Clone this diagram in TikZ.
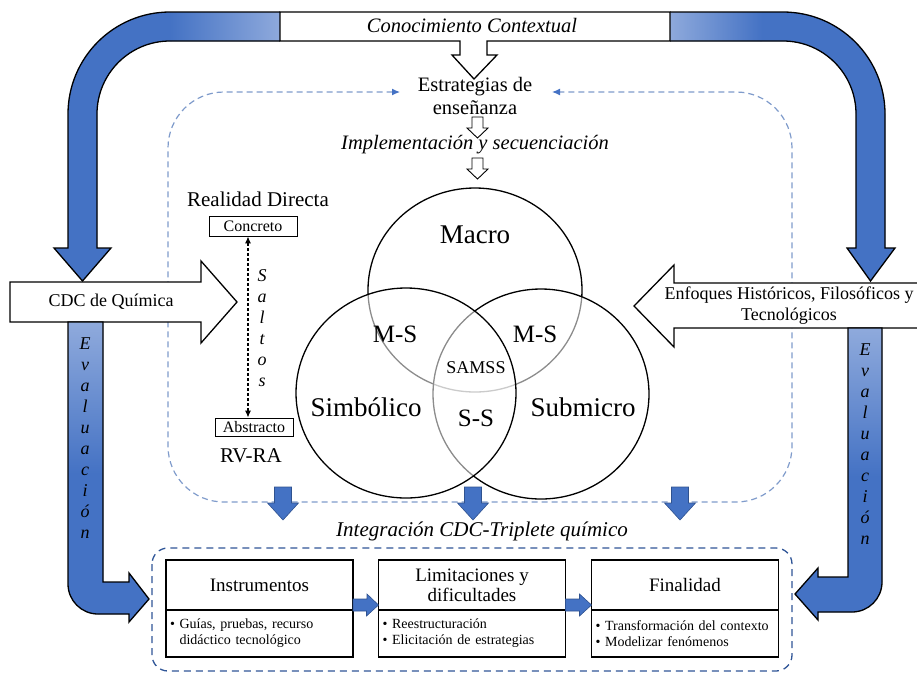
\documentclass[tikz,border=0pt]{standalone}
\usepackage{fontspec}
\setmainfont{Liberation Serif}
\usetikzlibrary{arrows.meta}
\usetikzlibrary{positioning}
\definecolor{evalblue}{HTML}{4472C4}
\definecolor{evallight}{HTML}{8FAADC}
\definecolor{evaldark}{HTML}{2F528F}
\definecolor{loopblue}{HTML}{7F9BCB}
\definecolor{integblue}{HTML}{2F5597}
\tikzset{
  txt/.style={align=center, font=\fontsize{20.5}{22.5}\selectfont},
  ital/.style={align=center, font=\fontsize{20.5}{22.5}\selectfont\itshape},
  vert/.style={align=center, font=\fontsize{18}{21}\selectfont\itshape},
  hollow/.style={draw=black, line width=1.3pt, fill=white},
  bigarrow/.style={draw=black, line width=1.3pt, fill=evalblue},
  bluearrow/.style={draw=evaldark, line width=0.6pt, fill=evalblue},
  venn/.style={draw=black, line width=1.3pt, fill=white, fill opacity=0.55},
  level/.style={font=\fontsize{27}{30}\selectfont},
  inters/.style={font=\fontsize{25}{28}\selectfont},
  smallbox/.style={draw, line width=0.9pt, inner sep=0pt, font=\fontsize{16}{18}\selectfont},
  boxhead/.style={draw, line width=1.3pt, outer sep=0pt, inner sep=0pt, minimum width=187pt,
    minimum height=50pt, align=center, font=\fontsize{19}{20}\selectfont},
  boxbody/.style={draw, line width=1.3pt, outer sep=0pt, inner sep=0pt, minimum width=187pt,
    minimum height=47pt, text width=179pt, align=left, font=\fontsize{14}{16}\selectfont},
  loopdash/.style={draw=loopblue, line width=1.2pt, dash pattern=on 6pt off 4pt, rounded corners=56pt},
  integdash/.style={draw=integblue, line width=1.3pt, dash pattern=on 7pt off 5pt, rounded corners=16pt}
}
\begin{document}
\begin{tikzpicture}[line join=miter, x=1pt, y=1pt, >={Latex[length=8pt,width=7pt]}]
\useasboundingbox (0,0) rectangle (917,-673);
% lazo de estrategias
\draw[loopdash, {Latex[length=8pt,width=7pt,evalblue]}-{Latex[length=8pt,width=7pt,evalblue]}]
  (400,-92) -- (168,-92) -- (168,-502) -- (792,-502) -- (792,-92) -- (552,-92);
% flechas grandes superiores
\draw[bigarrow, path picture={
    \fill[evalblue] (40,0) rectangle (172,-300);
    \shade[left color=evalblue, right color=evallight] (170,0) rectangle (281,-300);}]
  (280,-12) -- (170,-12) arc[start angle=90, end angle=180, radius=102] -- (68,-248) -- (54,-248)
  -- (82.5,-281) -- (111,-248) -- (97,-248) -- (97,-114) arc[start angle=180, end angle=90, radius=73] -- (280,-41);
\draw[bigarrow, path picture={
    \fill[evalblue] (760,0) rectangle (920,-300);
    \shade[left color=evallight, right color=evalblue] (669,0) rectangle (762,-300);}]
  (670,-12) -- (783,-12) arc[start angle=90, end angle=0, radius=102] -- (885,-248) -- (895,-248)
  -- (870.5,-281) -- (847,-248) -- (856,-248) -- (856,-114) arc[start angle=0, end angle=90, radius=73] -- (670,-41);
% conocimiento contextual
\draw[hollow] (280,-12) -- (670,-12) -- (670,-41) -- (487,-41) -- (487,-55) -- (497,-55) -- (474,-79)
  -- (452,-55) -- (460,-55) -- (460,-41) -- (280,-41) -- cycle;
\node[ital] (conoc) at (472,-26) {Conocimiento Contextual};
\node[txt] (estrat) at (475,-96) {Estrategias de\\enseñanza};
\node[ital] (implem) at (475,-145) {Implementación y secuenciación};
\foreach \y in {117,158}
  \draw[hollow, line width=0.9pt] (472,-\y) -- (483,-\y) -- (483,{-\y-11}) -- (488,{-\y-11})
    -- (477.5,{-\y-21}) -- (467,{-\y-11}) -- (472,{-\y-11}) -- cycle;
% CDC y enfoques
\draw[hollow] (10,-282) -- (201,-282) -- (201,-261) -- (237,-302) -- (201,-343) -- (201,-322) -- (10,-322) -- cycle;
\node[txt, font=\fontsize{18}{20}\selectfont] (cdc) at (111,-302) {CDC de Química};
\draw[hollow] (925,-283) -- (674,-283) -- (674,-265) -- (634,-306) -- (674,-347) -- (674,-328) -- (925,-328);
\node[txt, font=\fontsize{18}{21}\selectfont] (enfoq) at (789,-306) {Enfoques Históricos, Filosóficos y\\Tecnológicos};
% evaluacion
\draw[bigarrow, path picture={
    \shade[top color=evallight, bottom color=evalblue, middle color=evalblue] (50,-322) rectangle (160,-625);}]
  (68,-322) -- (103,-322) -- (103,-582) -- (129,-582) -- (129,-573) -- (149,-599) -- (129,-622) -- (129,-614)
  -- (98,-614) arc[start angle=270, end angle=180, radius=30] -- cycle;
\draw[bigarrow, path picture={
    \shade[top color=evallight, bottom color=evalblue, middle color=evalblue] (790,-328) rectangle (890,-625);}]
  (848,-328) -- (882,-328) -- (882,-582) arc[start angle=0, end angle=-90, radius=30] -- (818,-612)
  -- (818,-620) -- (795,-594) -- (818,-568) -- (818,-577) -- (848,-577) -- cycle;
\node[vert] (evalL) at (85,-438) {E\\v\\a\\l\\u\\a\\c\\i\\ó\\n};
\node[vert] (evalR) at (865,-444) {E\\v\\a\\l\\u\\a\\c\\i\\ó\\n};
% niveles de representacion
\node[txt, font=\fontsize{21}{23}\selectfont] (realidad) at (258,-199) {Realidad Directa};
\node[smallbox, minimum width=88pt, minimum height=20pt] (concreto) at (253,-226) {Concreto};
\node[smallbox, minimum width=78pt, minimum height=18pt] (abstracto) at (254,-427) {Abstracto};
\node[txt, font=\fontsize{21}{23}\selectfont] (rvra) at (251,-456) {RV-RA};
\draw[<->, >={Latex[length=7pt,width=6pt]}, line width=1.1pt, dash pattern=on 3pt off 2pt]
  ([xshift=-5pt]concreto.south) -- ([xshift=-6pt]abstracto.north);
\node[vert] (saltos) at (262,-328) {S\\a\\l\\t\\o\\s};
% triplete
\draw[venn] (475,-290) ellipse [x radius=107, y radius=102];
\draw[venn] (541,-394) ellipse [x radius=108, y radius=105];
\draw[venn] (406,-393) ellipse [x radius=110, y radius=105];
\node[level] (macro) at (475,-235) {Macro};
\node[level] (simb) at (366,-407) {Simbólico};
\node[level] (submicro) at (583,-407) {Submicro};
\node[inters] (msl) at (395,-334) {M-S};
\node[inters] (msr) at (535,-334) {M-S};
\node[font=\fontsize{18}{20}\selectfont] (samss) at (476,-368) {SAMSS};
\node[inters] (ss) at (476,-418) {S-S};
% integracion
\foreach \x in {283,473,680}
  \draw[bluearrow] ({\x-8.5},-487) -- ({\x+8.5},-487) -- ({\x+8.5},-503) -- ({\x+15.5},-503) -- (\x,-520)
    -- ({\x-15.5},-503) -- ({\x-8.5},-503) -- cycle;
\node[ital, font=\fontsize{21}{23}\selectfont\itshape] (integ) at (482,-531) {Integración CDC-Triplete químico};
\draw[integdash] (152,-548) rectangle (792,-671);
\node[boxhead] (instr) at (259.5,-585) {Instrumentos};
\node[boxbody, below=0pt of instr] (instrb) {\textbullet\ Guías, pruebas, recurso\\\phantom{\textbullet\ }didáctico tecnológico};
\node[boxhead] (limit) at (472,-585) {Limitaciones y\\dificultades};
\node[boxbody, below=0pt of limit] (limitb) {\textbullet\ Reestructuración\\\textbullet\ Elicitación de estrategias};
\node[boxhead] (final) at (685,-585) {Finalidad};
\node[boxbody, below=0pt of final] (finalb) {\textbullet\ Transformación del contexto\\\textbullet\ Modelizar fenómenos};
\foreach \from/\to in {instr/limit, limit/final}
  \draw[bluearrow] ([yshift=11pt]\from.south east) -- ++(14,0) -- ++(0,5) -- ([yshift=5pt]\to.south west)
    -- ++(-12,-11) -- ++(0,5) -- ([yshift=-1pt]\from.south east) -- cycle;
\end{tikzpicture}
\end{document}
